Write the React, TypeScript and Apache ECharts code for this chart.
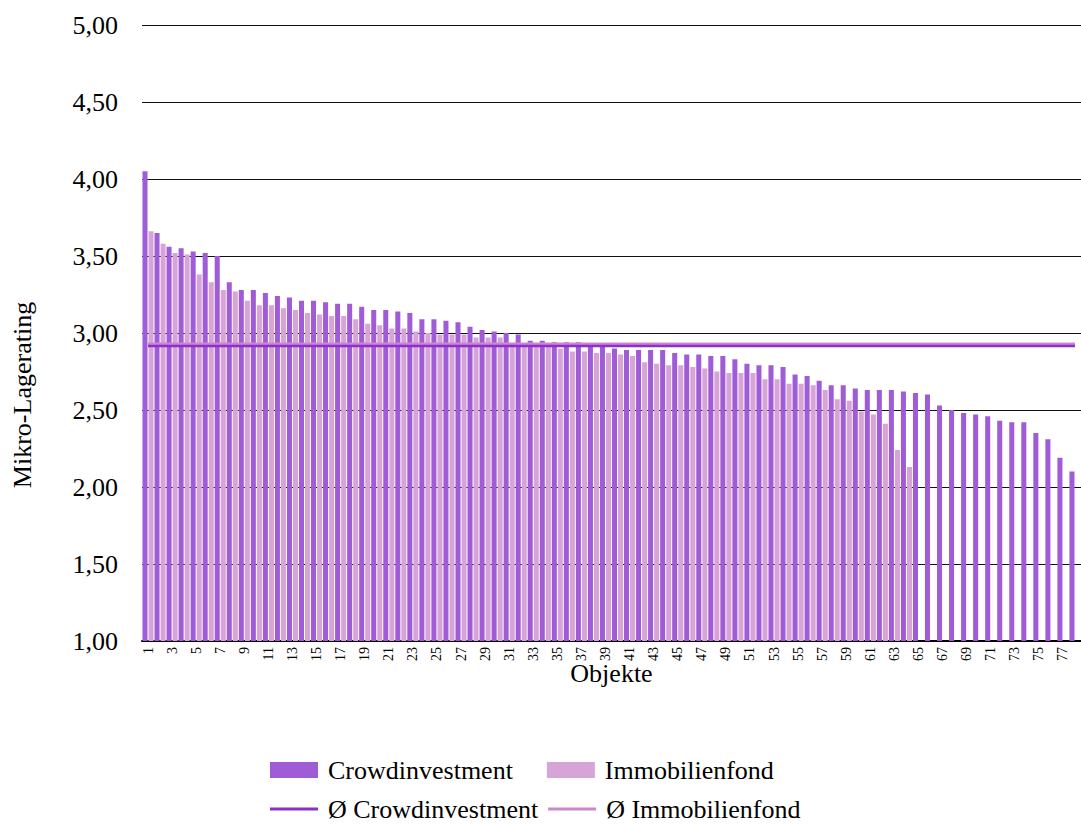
import React, { useEffect, useRef } from "react";
import * as echarts from "echarts";

const categories: string[] = Array.from({ length: 78 }, (_, i) => String(i + 1));

const crowdinvestment: number[] = [
  4.05, 3.65, 3.56, 3.55, 3.53, 3.52, 3.5, 3.33, 3.28, 3.28,
  3.26, 3.24, 3.23, 3.21, 3.21, 3.2, 3.19, 3.19, 3.17, 3.15,
  3.15, 3.14, 3.13, 3.09, 3.09, 3.08, 3.07, 3.04, 3.02, 3.01,
  3.0, 2.99, 2.95, 2.95, 2.94, 2.94, 2.94, 2.93, 2.92, 2.9,
  2.89, 2.89, 2.89, 2.89, 2.87, 2.86, 2.86, 2.85, 2.85, 2.83,
  2.8, 2.79, 2.79, 2.78, 2.73, 2.72, 2.69, 2.66, 2.66, 2.64,
  2.63, 2.63, 2.63, 2.62, 2.61, 2.6, 2.53, 2.5, 2.48, 2.47,
  2.46, 2.43, 2.42, 2.42, 2.35, 2.31, 2.19, 2.1,
];

const immobilienfond: number[] = [
  3.66, 3.58, 3.52, 3.51, 3.38, 3.33, 3.28, 3.27, 3.21, 3.18,
  3.18, 3.16, 3.15, 3.13, 3.12, 3.11, 3.11, 3.09, 3.06, 3.05,
  3.03, 3.03, 3.01, 3.0, 2.99, 2.99, 2.99, 2.97, 2.97, 2.97,
  2.93, 2.93, 2.93, 2.91, 2.9, 2.88, 2.88, 2.87, 2.87, 2.86,
  2.85, 2.81, 2.8, 2.79, 2.79, 2.78, 2.77, 2.75, 2.74, 2.74,
  2.74, 2.7, 2.7, 2.67, 2.67, 2.66, 2.63, 2.57, 2.56, 2.49,
  2.47, 2.41, 2.24, 2.13,
];

const avgCrowdinvestment = 2.915;
const avgImmobilienfond = 2.93;

const seriesNames = ["Crowdinvestment", "Immobilienfond", "Ø Crowdinvestment", "Ø Immobilienfond"];
const yAxisTitle = "Mikro-Lagerating";
const xAxisTitle = "Objekte";

const FONT = "'Liberation Serif', 'Times New Roman', serif";

export default function App() {
  const ref = useRef<HTMLDivElement>(null);
  useEffect(() => {
    if (!ref.current) return;
    const chart = echarts.init(ref.current, null, { renderer: "svg" });
    const option: any = {
      animation: false,
      backgroundColor: "#ffffff",
      textStyle: { fontFamily: FONT, color: "#000" },
      grid: { left: 142, right: 0, top: 25, bottom: 184, containLabel: false },
      graphic: [
        {
          type: "text",
          x: 22,
          y: 395,
          rotation: Math.PI / 2,
          style: {
            text: yAxisTitle,
            fontFamily: FONT,
            fontSize: 26,
            fill: "#000",
            align: "center",
            verticalAlign: "middle",
          },
        },
      ],
      legend: [
        {
          data: [seriesNames[0], seriesNames[1]],
          left: 265,
          top: 752,
          itemWidth: 48,
          itemHeight: 16,
          itemGap: 34,
          icon: "rect",
          textStyle: { fontFamily: FONT, fontSize: 26, color: "#000", padding: [0, 0, 0, 5] },
        },
        {
          data: [seriesNames[2], seriesNames[3]],
          left: 265,
          top: 791,
          itemWidth: 48,
          itemHeight: 3,
          itemGap: 10,
          icon: "rect",
          textStyle: { fontFamily: FONT, fontSize: 26, color: "#000", padding: [0, 0, 0, 5] },
        },
      ],
      xAxis: {
        type: "category",
        data: categories,
        name: xAxisTitle,
        nameLocation: "middle",
        nameGap: 32,
        nameMoveOverlap: false,
        nameTextStyle: { fontFamily: FONT, fontSize: 26, color: "#000", verticalAlign: "middle" },
        axisLine: { show: true, lineStyle: { color: "#000", width: 2 } },
        axisTick: { show: false },
        axisLabel: {
          interval: 1,
          rotate: 90,
          fontSize: 14,
          margin: 6,
          fontFamily: FONT,
          color: "#000",
        },
      },
      yAxis: {
        type: "value",
        min: 1,
        max: 5,
        interval: 0.5,
        axisLine: { show: false },
        axisTick: { show: false },
        axisLabel: {
          fontSize: 26,
          margin: 24,
          fontFamily: FONT,
          color: "#000",
          formatter: (v: number) => v.toFixed(2).replace(".", ","),
        },
        splitLine: { show: true, lineStyle: { color: "#111", width: 1 } },
      },
      series: [
        {
          name: seriesNames[0],
          type: "bar",
          data: crowdinvestment,
          barCategoryGap: "8%",
          barGap: "20%",
          itemStyle: { color: "#A05CD6" },
        },
        {
          name: seriesNames[1],
          type: "bar",
          data: immobilienfond,
          itemStyle: { color: "#D6A4D6" },
        },
        {
          name: seriesNames[2],
          type: "line",
          data: categories.map(() => avgCrowdinvestment),
          symbol: "none",
          lineStyle: { color: "#8C2FCF", width: 2.5 },
          itemStyle: { color: "#8C2FCF" },
          z: 5,
        },
        {
          name: seriesNames[3],
          type: "line",
          data: categories.map(() => avgImmobilienfond),
          symbol: "none",
          lineStyle: { color: "#CC88CC", width: 2.5 },
          itemStyle: { color: "#CC88CC" },
          z: 4,
        },
      ],
    };
    chart.setOption(option);
    return () => chart.dispose();
  }, []);
  return (
    <div
      ref={ref}
      style={{ position: "fixed", left: 0, top: 0, width: 1081, height: 825, background: "#fff" }}
    />
  );
}
